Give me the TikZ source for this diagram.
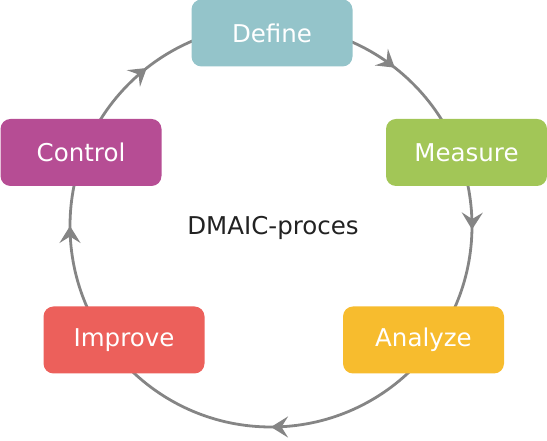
\documentclass[tikz,border=0pt]{standalone}
\usepackage{fontspec}
\setmainfont{DejaVu Sans}
\usetikzlibrary{arrows.meta,decorations.markings}
\definecolor{cDefine}{HTML}{94C4CA}
\definecolor{cMeasure}{HTML}{A2C657}
\definecolor{cAnalyze}{HTML}{F7BC2E}
\definecolor{cImprove}{HTML}{EC605B}
\definecolor{cControl}{HTML}{B64D94}
\definecolor{ringgray}{HTML}{858585}
\definecolor{txtdark}{HTML}{222222}
\tikzset{
  ringtip/.tip={Stealth[length=17pt,width=21pt,inset=6.5pt]},
  phase/.style={draw=none, rounded corners=10pt, minimum width=161pt, minimum height=67pt,
    inner sep=0pt, text=white, font=\fontsize{24.5}{29}\selectfont},
  ring/.style={draw=ringgray, line width=2.8pt,
    postaction={decorate},
    decoration={markings,
      mark=at position 0.1056 with {\arrow[ringgray]{ringtip}},
      mark=at position 0.2528 with {\arrow[ringgray]{ringtip}},
      mark=at position 0.5 with {\arrow[ringgray]{ringtip}},
      mark=at position 0.75 with {\arrow[ringgray]{ringtip}},
      mark=at position 0.894 with {\arrow[ringgray]{ringtip}}}}
}
\begin{document}
\begin{tikzpicture}[x=1pt,y=1pt]
\useasboundingbox (0,0) rectangle (547,441);
\coordinate (c) at (271,215);
\path[ring] (c) ++(90:201) arc[start angle=90, end angle=-270, radius=201];
\node[phase, fill=cDefine] (define) at (272,408) {Define};
\node[phase, fill=cMeasure] (measure) at (466.5,288.5) {Measure};
\node[phase, fill=cAnalyze] (analyze) at (423.5,101) {Analyze};
\node[phase, fill=cImprove] (improve) at (124,101) {Improve};
\node[phase, fill=cControl] (control) at (81,288.5) {Control};
\node[text=txtdark, font=\fontsize{24.5}{29}\selectfont] (title) at (273,213) {DMAIC-proces};
\end{tikzpicture}
\end{document}
